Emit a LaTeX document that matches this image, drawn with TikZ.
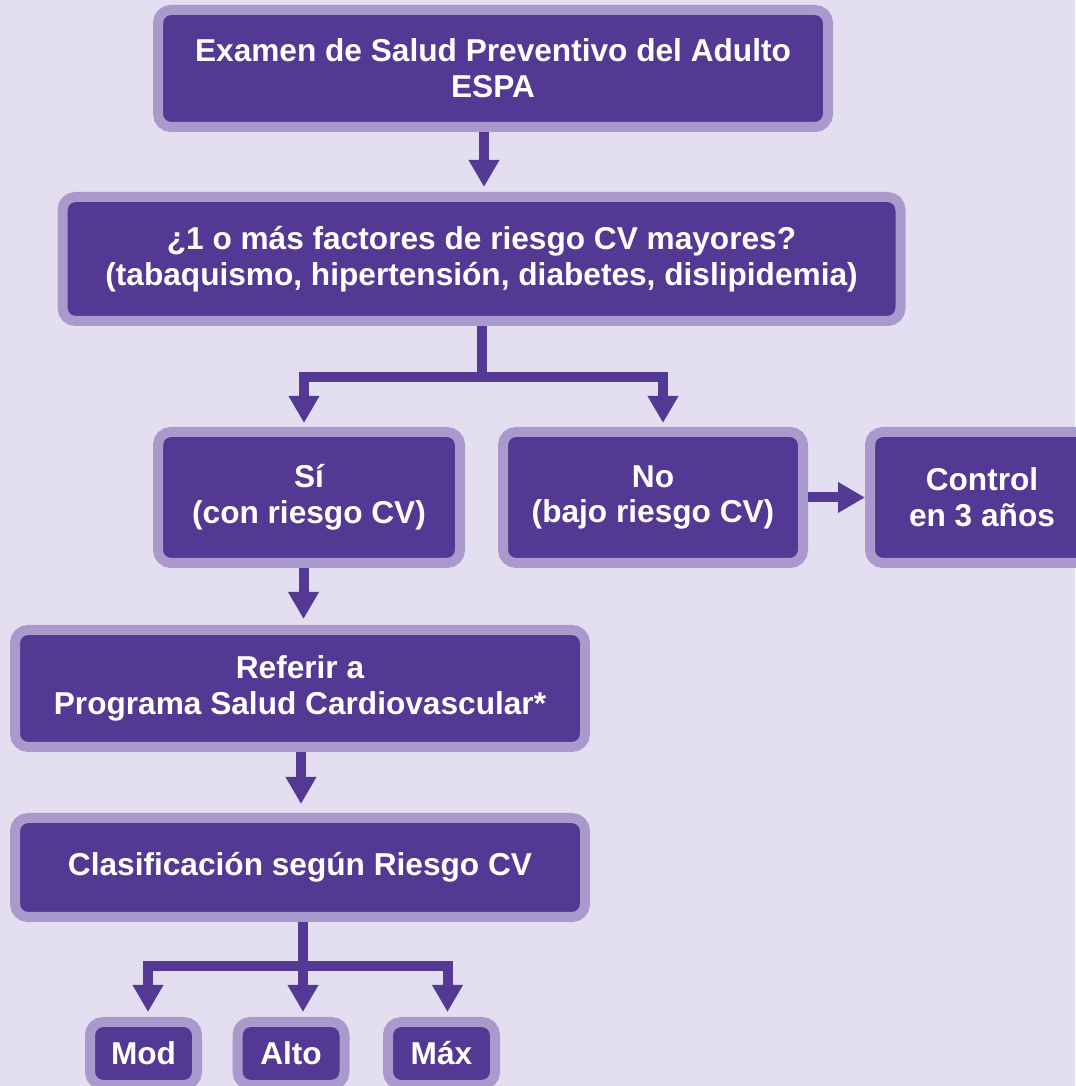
\documentclass[tikz,border=0pt]{standalone}
\usepackage{fontspec}
\setmainfont{Liberation Sans}
\usepackage{tikz}
\usetikzlibrary{arrows.meta,calc}
\definecolor{espaback}{RGB}{227,223,240}
\definecolor{espadark}{RGB}{83,56,148}
\definecolor{espalight}{RGB}{170,153,204}

\begin{document}
\begin{tikzpicture}[
    box/.style={draw=espalight, fill=espadark, line width=0.2cm, rounded corners=0.26cm,
      inner sep=0pt, align=center, text=white, font=\fontsize{18}{20.4}\selectfont\bfseries},
    flow/.style={draw=espadark, line width=0.2cm, -{Triangle[width=0.58cm,length=0.54cm]}}
  ]
  % background
  \fill[espaback] (0,0) rectangle (21.5,21.72);
  \useasboundingbox (0,0) rectangle (21.5,21.72);

  % top boxes
  \node[box, minimum width=13.4cm, minimum height=2.34cm] (espa) at (9.86,20.35)
    {Examen de Salud Preventivo del Adulto\\ESPA};
  \node[box, minimum width=16.76cm, minimum height=2.48cm] (factores) at (9.63,16.54)
    {¿1 o más factores de riesgo CV mayores?\\(tabaquismo, hipertensión, diabetes, dislipidemia)};

  % yes / no
  \node[box, minimum width=6.04cm, minimum height=2.62cm] (si) at (6.18,11.77)
    {Sí\\(con riesgo CV)};
  \node[box, minimum width=6.0cm, minimum height=2.62cm] (no) at (13.06,11.77)
    {No\\(bajo riesgo CV)};
  \node[box, minimum width=4.48cm, minimum height=2.62cm] (control) at (19.64,11.77)
    {Control\\en 3 años};

  % programa
  \node[box, minimum width=11.4cm, minimum height=2.34cm] (referir) at (6.0,7.95)
    {Referir a\\Programa Salud Cardiovascular*};
  \node[box, minimum width=11.4cm, minimum height=1.98cm] (clasif) at (6.0,4.37)
    {Clasificación según Riesgo CV};

  % riesgo
  \node[box, minimum width=2.14cm, minimum height=1.26cm] (mod) at (2.87,0.65) {Mod};
  \node[box, minimum width=2.14cm, minimum height=1.26cm] (alto) at (5.82,0.65) {Alto};
  \node[box, minimum width=2.14cm, minimum height=1.26cm] (max) at (8.83,0.65) {Máx};

  % arrows
  \draw[flow, shorten >=0.1cm] ([xshift=-0.18cm]espa.south) -- ([xshift=-0.18cm]espa.south |- factores.north);

  \coordinate (fork1) at ($(factores.south)+(0,-1.02)$);
  \draw[flow, shorten >=0.08cm] (factores.south) -- (fork1) -| ([xshift=-0.1cm]si.north);
  \draw[flow, shorten >=0.08cm] (fork1) -| ([xshift=0.2cm]no.north);

  \draw[flow] (no.east) -- (control.west);
  \draw[flow, shorten >=0.12cm] ([xshift=-0.11cm]si.south) -- ([xshift=-0.11cm]si.south |- referir.north);
  \draw[flow, shorten >=0.18cm] ([xshift=0.02cm]referir.south) -- ([xshift=0.02cm]referir.south |- clasif.north);

  \coordinate (fork2) at ($(clasif.south)+(0.06,-0.88)$);
  \draw[flow, shorten >=0.1cm] (fork2 |- clasif.south) -- (fork2) -- (fork2 |- alto.north);
  \draw[flow, shorten >=0.1cm] (fork2) -| ([xshift=0.09cm]mod.north);
  \draw[flow, shorten >=0.1cm] (fork2) -| ([xshift=0.12cm]max.north);
\end{tikzpicture}
\end{document}
